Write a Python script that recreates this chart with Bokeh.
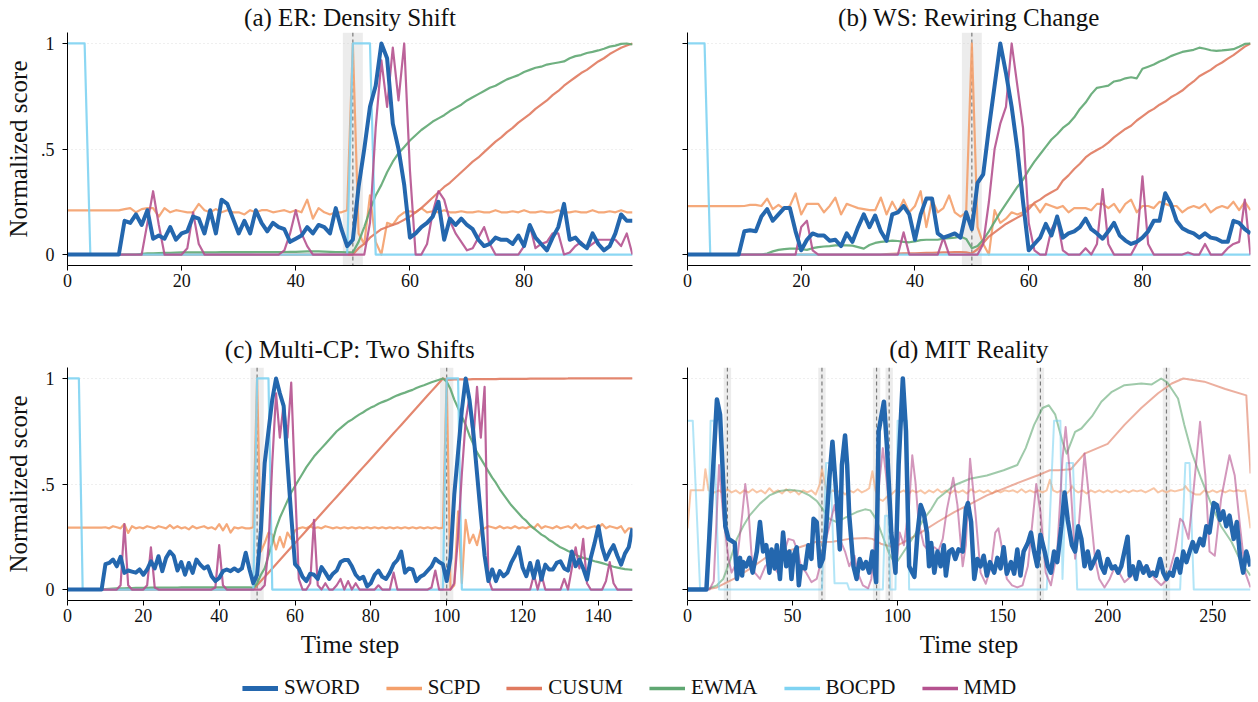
from bokeh.plotting import figure
from bokeh.models import Range1d, FixedTicker, BoxAnnotation, Span, Legend, LegendItem
from bokeh.layouts import column, row
from bokeh.embed import file_html
from bokeh.resources import INLINE

FONT = "Liberation Serif"
METHODS = ["SWORD", "SCPD", "CUSUM", "EWMA", "BOCPD", "MMD"]
COLORS = {"SWORD": "#2467ae", "SCPD": "#f4a06b", "CUSUM": "#e07a5f",
          "EWMA": "#5fa772", "BOCPD": "#7fd3f2", "MMD": "#b5528f"}

# ---------------- (a) ER: Density Shift ----------------
STEPS_A = list(range(100))
A_SWORD = [0, 0, 0, 0, 0, 0, 0, 0, 0, 0,
           .16, .15, .19, .14, .21, .075, .09, .075, .13, .07,
           .10, .11, .18, .17, .10, .21, .10, .26, .24, .17,
           .10, .16, .10, .21, .15, .11, .15, .13, .12, .06,
           .075, .09, .13, .10, .14, .13, .10, .22, .12, .04,
           .07, .32, .50, .70, .80, 1.0, .93, .62, .50, .33,
           .08, .10, .13, .15, .18, .25, .07, .17, .14, .17,
           .14, .12, .07, .04, .05, .08, .07, .07, .05, .09,
           .04, .14, .08, .05, .02, .08, .13, .24, .07, .08,
           .05, .03, .10, .05, .02, .04, .10, .19, .16, .16]
A_SCPD = [.209, .209, .209, .209, .209, .209, .209, .209, .209, .209,
          .215, .22, .20, .215, .22, .22, .18, .22, .20, .21,
          .205, .20, .20, .24, .21, .20, .215, .20, .21, .20,
          .20, .19, .21, .20, .21, .21, .20, .205, .21, .20,
          .21, .20, .26, .17, .22, .20, .19, .20, .20, .21,
          1.0, .10, .05, .28, .06, .0, .15, .14, .18, .20,
          .205, .20, .22, .20, .205, .20, .21, .20, .20, .205,
          .20, .20, .205, .20, .20, .21, .20, .20, .205, .20,
          .21, .20, .20, .205, .20, .20, .21, .20, .20, .205,
          .20, .20, .21, .20, .20, .205, .20, .21, .20, .20]
A_CUSUM = [0, 0, 0, 0, 0, 0, 0, 0, 0, 0,
           0, 0, 0, 0, 0, 0, 0, 0, 0, 0,
           0, 0, 0, 0, 0, 0, 0, 0, 0, 0,
           0, 0, 0, 0, 0, 0, 0, 0, 0, 0,
           0, 0, 0, 0, 0, 0, 0, 0, 0, 0,
           0, .03, .05, .08, .10, .12, .13, .14, .15, .165,
           .18, .20, .22, .245, .27, .295, .32, .34, .365, .39,
           .415, .44, .46, .485, .51, .535, .555, .58, .60, .625,
           .645, .665, .69, .71, .73, .755, .775, .80, .82, .84,
           .86, .875, .895, .915, .93, .95, .965, .98, .99, 1.0]
A_EWMA = [0, 0, 0, 0, 0, 0, 0, 0, 0, 0,
          0, 0, 0, .003, .005, .006, .007, .008, .008, .009,
          .01, .01, .01, .01, .01, .01, .01, .011, .011, .011,
          .011, .011, .011, .012, .012, .012, .012, .012, .012, .013,
          .013, .014, .015, .015, .015, .014, .013, .012, .012, .01,
          .01, .06, .13, .21, .28, .33, .39, .44, .48, .51,
          .54, .565, .59, .61, .63, .645, .66, .68, .695, .71,
          .73, .745, .76, .775, .79, .80, .815, .83, .84, .85,
          .865, .875, .885, .89, .90, .905, .91, .915, .93, .94,
          .945, .955, .96, .967, .975, .985, .99, .998, 1.0, .995]
A_BOCPD_X = [0, 3, 4, 49, 50, 53, 54, 99]
A_BOCPD_Y = [1, 1, 0, 0, 1, 1, 0, 0]
A_MMD = [0, 0, 0, 0, 0, 0, 0, 0, 0, 0,
         0, 0, 0, 0, .15, .30, .14, 0, 0, 0,
         0, .03, .20, .05, 0, 0, 0, 0, 0, 0,
         0, 0, 0, 0, 0, 0, 0, 0, .02, .10,
         .21, .10, .04, 0, 0, 0, 0, 0, 0, 0,
         0, 0, 0, .15, .60, .92, .70, .98, .73, 1.0,
         .40, 0, 0, .05, .20, .30, .26, .16, .10, .06,
         .02, .03, .08, .13, .05, 0, 0, 0, 0, 0,
         .04, .14, .03, .05, .06, .10, .10, 0, .01, .04,
         .06, .03, .05, .07, .07, .07, .07, .04, .10, 0]
CP_A = [50]

# ---------------- (b) WS: Rewiring Change ----------------
STEPS_B = list(range(100))
B_SWORD = [0, 0, 0, 0, 0, 0, 0, 0, 0, 0,
           .11, .115, .11, .18, .215, .16, .19, .22, .22, .11,
           .02, .07, .10, .09, .09, .065, .07, .04, .10, .06,
           .13, .19, .13, .185, .11, .065, .19, .20, .23, .19,
           .07, .19, .265, .265, .10, .08, .09, .10, .08, .20,
           .12, .34, .38, .60, .80, 1.0, .86, .70, .50, .25,
           .02, .05, .08, .145, .09, .18, .08, .10, .11, .13,
           .17, .12, .10, .075, .11, .15, .09, .066, .05, .06,
           .08, .11, .16, .16, .29, .24, .16, .125, .11, .10,
           .08, .10, .08, .075, .06, .06, .16, .15, .12, .10]
B_SCPD = [.229, .229, .229, .229, .229, .229, .229, .229, .229, .229,
          .23, .235, .235, .23, .265, .215, .235, .215, .23, .29,
          .19, .24, .24, .24, .20, .23, .27, .19, .24, .23,
          .22, .215, .21, .21, .27, .19, .25, .20, .26, .20,
          .23, .30, .13, .26, .20, .22, .28, .20, .18, .20,
          1.0, .13, .05, .0, .21, .15, .17, .20, .19, .20,
          .23, .24, .20, .24, .23, .22, .23, .20, .22, .22,
          .22, .21, .24, .24, .22, .24, .20, .24, .26, .20,
          .23, .23, .22, .25, .24, .23, .23, .20, .22, .23,
          .22, .24, .20, .22, .23, .22, .25, .21, .25, .21]
B_CUSUM = [0, 0, 0, 0, 0, 0, 0, 0, 0, 0,
           0, 0, 0, 0, 0, 0, 0, 0, 0, 0,
           0, 0, 0, 0, 0, 0, 0, 0, 0, 0,
           0, 0, 0, 0, 0, .002, .003, .004, .005, .006,
           .006, .007, .008, .008, .009, .01, .01, .011, .012, .01,
           .005, .025, .055, .085, .105, .125, .145, .16, .175, .19,
           .215, .245, .26, .28, .295, .31, .35, .375, .405, .43,
           .46, .48, .495, .51, .53, .555, .575, .595, .61, .635,
           .655, .675, .69, .71, .725, .745, .76, .777, .80, .82,
           .845, .86, .875, .895, .91, .928, .945, .965, .985, 1.0]
B_EWMA = [0, 0, 0, 0, 0, 0, 0, 0, 0, 0,
          0, 0, 0, 0, .005, .015, .022, .026, .028, .028,
          .025, .022, .03, .035, .038, .04, .043, .044, .043, .042,
          .035, .028, .045, .055, .06, .062, .066, .064, .06, .058,
          .062, .068, .07, .07, .07, .075, .078, .08, .085, .074,
          .03, .04, .07, .11, .155, .20, .24, .28, .32, .355,
          .40, .44, .475, .51, .545, .57, .60, .62, .65, .69,
          .72, .76, .79, .795, .80, .82, .825, .835, .84, .835,
          .88, .89, .90, .915, .925, .94, .95, .96, .965, .97,
          .98, .975, .968, .965, .967, .97, .973, .985, .998, 1.0]
B_BOCPD_X = [0, 3, 4, 99]
B_BOCPD_Y = [1, 1, 0, 0]
B_MMD = [0, 0, 0, 0, 0, 0, 0, 0, 0, 0,
         0, 0, 0, 0, 0, 0, 0, 0, 0, 0,
         .13, .16, .02, 0, 0, 0, 0, 0, 0, 0,
         0, 0, 0, 0, 0, 0, 0, 0, .105, 0,
         0, 0, 0, 0, 0, .08, 0, 0, 0, 0,
         0, 0, .05, .25, .50, .62, .70, 1.0, .80, .60,
         .15, .02, 0, 0, .12, .17, .02, 0, 0, 0,
         .03, 0, .05, .31, .05, 0, 0, 0, 0, .05,
         .37, .05, 0, 0, 0, 0, 0, 0, .01, 0,
         0, .05, 0, 0, 0, .03, .05, .06, .26, 0]
CP_B = [50]

# ---------------- (c) Multi-CP: Two Shifts ----------------
STEPS_C = list(range(150))
C_SWORD = [0, 0, 0, 0, 0, 0, 0, 0, 0, 0,
           .12, .126, .142, .11, .155, .079, .09, .085, .08, .095,
           .07, .095, .134, .10, .158, .087, .15, .18, .16, .09,
           .13, .07, .126, .079, .142, .118, .10, .11, .063, .04,
           .055, .087, .095, .087, .10, .087, .10, .174, .095, .03,
           .07, .28, .60, .75, .90, 1.0, .93, .87, .60, .35,
           .12, .10, .06, .04, .075, .07, .05, .106, .08, .05,
           .075, .09, .13, .14, .14, .11, .07, .05, .06, .015,
           .03, .07, .09, .06, .05, .08, .12, .14, .18, .08,
           .10, .095, .04, .06, .07, .09, .11, .146, .13, .12,
           .04, .15, .45, .65, .85, 1.0, .90, .75, .55, .35,
           .16, .04, .095, .04, .087, .063, .079, .126, .16, .20,
           .105, .063, .126, .055, .134, .047, .118, .095, .095, .126,
           .134, .10, .09, .18, .11, .142, .10, .047, .15, .22,
           .30, .20, .142, .18, .21, .16, .118, .17, .20, .29]
C_SCPD = [.293, .293, .293, .293, .293, .293, .293, .293, .293, .293,
          .295, .29, .30, .295, .29, .31, .268, .30, .29, .295,
          .29, .30, .295, .29, .30, .295, .29, .305, .29, .30,
          .29, .295, .285, .30, .29, .295, .30, .29, .295, .285,
          .31, .28, .31, .27, .295, .29, .295, .29, .29, .295,
          1.0, .18, .22, .27, .26, .19, .25, .20, .27, .24,
          .28, .29, .295, .29, .30, .29, .295, .29, .30, .295,
          .29, .295, .29, .295, .29, .295, .29, .295, .29, .295,
          .29, .295, .29, .295, .29, .295, .29, .295, .29, .295,
          .29, .295, .29, .295, .29, .295, .29, .295, .29, .293,
          1.0, .0, .02, .37, .03, .33, .22, .26, .21, .285,
          .29, .30, .295, .29, .30, .29, .295, .29, .30, .29,
          .295, .29, .30, .29, .31, .29, .30, .295, .29, .30,
          .29, .295, .30, .29, .31, .29, .30, .29, .295, .30,
          .29, .31, .29, .30, .295, .29, .30, .27, .29, .29]
C_CUSUM = [0, 0, 0, 0, 0, 0, 0, 0, 0, 0,
           0, 0, 0, 0, 0, 0, 0, 0, 0, 0,
           0, 0, 0, 0, 0, 0, 0, 0, 0, 0,
           0, 0, 0, 0, 0, 0, 0, 0, 0, 0,
           0, 0, 0, 0, 0, 0, 0, 0, 0, 0,
           .02, .04, .06, .08, .10, .12, .14, .16, .18, .20,
           .22, .24, .26, .28, .30, .32, .34, .36, .38, .40,
           .42, .44, .46, .48, .50, .52, .54, .56, .58, .60,
           .62, .64, .66, .68, .70, .72, .74, .76, .78, .80,
           .82, .84, .86, .88, .90, .92, .94, .96, .98, 1.0,
           .995, .995, .996, .996, .996, .996, .996, .997, .997, .997,
           .997, .997, .997, .997, .998, .998, .998, .998, .998, .998,
           .998, .998, .999, .999, .999, .999, .999, .999, .999, .999,
           .999, .999, 1.0, 1.0, 1.0, 1.0, 1.0, 1.0, 1.0, 1.0,
           1.0, 1.0, 1.0, 1.0, 1.0, 1.0, 1.0, 1.0, 1.0, 1.0]
C_EWMA = [0, 0, 0, 0, 0, 0, 0, 0, 0, 0,
          .002, .003, .004, .005, .006, .006, .007, .007, .008, .008,
          .008, .008, .009, .009, .009, .009, .009, .009, .009, .009,
          .01, .01, .01, .01, .01, .01, .01, .01, .01, .01,
          .01, .01, .01, .01, .01, .01, .01, .01, .01, .008,
          .03, .07, .10, .16, .22, .29, .34, .38, .42, .46,
          .49, .52, .55, .58, .605, .63, .65, .67, .69, .71,
          .73, .75, .765, .78, .795, .805, .818, .83, .84, .852,
          .862, .87, .88, .888, .895, .903, .912, .92, .927, .933,
          .94, .946, .955, .962, .968, .975, .982, .988, .994, 1.0,
          .985, .95, .90, .86, .82, .78, .73, .69, .65, .62,
          .59, .56, .53, .505, .475, .45, .425, .40, .38, .36,
          .34, .325, .305, .29, .275, .26, .25, .235, .225, .212,
          .20, .192, .183, .175, .165, .157, .15, .145, .14, .134,
          .13, .125, .12, .114, .108, .104, .10, .097, .095, .093]
C_BOCPD_X = [0, 3, 4, 49, 50, 53, 54, 99, 100, 103, 104, 149]
C_BOCPD_Y = [1, 1, 0, 0, 1, 1, 0, 0, 1, 1, 0, 0]
C_MMD = [0, 0, 0, 0, 0, 0, 0, 0, 0, 0,
         0, 0, 0, 0, .02, .31, .02, 0, 0, 0,
         0, .02, .20, .01, 0, 0, 0, 0, 0, 0,
         0, 0, 0, 0, 0, 0, 0, 0, 0, .01,
         .21, .02, 0, 0, 0, 0, 0, 0, 0, 0,
         0, 0, .02, .20, .60, .93, .72, .88, .72, .98,
         .50, .05, 0, 0, .03, .33, .02, 0, .03, 0,
         0, .02, .05, 0, .04, 0, .03, 0, 0, 0,
         0, 0, .02, 0, 0, 0, .08, 0, 0, 0,
         0, 0, 0, 0, 0, 0, .01, .09, 0, 0,
         0, 0, .03, .25, .55, .80, .91, .70, .96, .72,
         .96, .05, 0, 0, 0, 0, 0, 0, 0, 0,
         0, 0, 0, .07, 0, .07, 0, 0, 0, 0,
         0, .05, 0, .10, .20, .10, .24, .03, 0, 0,
         0, 0, .04, .13, .03, 0, 0, 0, 0, 0]
CP_C = [50, 100]

# ---------------- (d) MIT Reality  (time step, score) ----------------
D_SWORD = [(0, 0), (9, 0), (14, .9), (15.5, .83), (17, .51), (18, .3), (19.5, .24), (21, .23),
           (22.5, .22), (23.5, .05), (25, .15), (26, .066), (26.5, .13), (28, .11), (29.5, .15),
           (31, .08), (33, .18), (34.5, .32), (36, .18), (37.5, .21), (39, .08), (40, .19),
           (41.5, .1), (42.5, .21), (44, .05), (45.5, .27), (47, .11), (48.5, .18), (49.5, .05),
           (50.5, .16), (52, .2), (53, .02), (54, .11), (56, .1), (57.5, .21), (59, .145),
           (60, .335), (61.5, .32), (63, .11), (64.5, .145), (66, .29), (67.5, .525), (69, .7),
           (71, .43), (72.5, .19), (73.5, .59), (75, .73), (76, .59), (77, .35), (79, .11),
           (80.5, .05), (82, .145), (83.5, .1), (85, .13), (86.5, .08), (88, .18), (89.8, .035),
           (91, .75), (93.5, .89), (95, .67), (97, .27), (99, .08), (100.5, .59), (102.5, 1.0),
           (104, .75), (105.5, .11), (107, .08), (108, .06), (109.5, .27), (111, .4), (112.5, .36),
           (114, .27), (115, .11), (116, .22), (117.5, .08), (119, .18), (120.5, .11), (122, .21),
           (123, .066), (124.5, .18), (126, .19), (127.5, .145), (129, .19), (131, .18),
           (132.5, .38), (133.5, .41), (135, .32), (136.5, .05), (138, .145), (139.5, .11),
           (141, .16), (142.5, .066), (144, .13), (146, .08), (147.5, .15), (149, .1),
           (150.5, .2), (152, .075), (154, .13), (155.5, .075), (157, .19), (158.5, .066),
           (160, .18), (162, .22), (163.5, .27), (165, .18), (166.5, .11), (168, .26), (170, .18),
           (171.5, .11), (173, .08), (174.5, .18), (176, .13), (178, .3), (179.5, .46), (181, .33),
           (183, .21), (184.5, .18), (186, .3), (187.5, .24), (189, .11), (190.5, .18), (192, .1),
           (194, .145), (195.5, .18), (197, .11), (198.5, .08), (200, .145), (202, .1),
           (203.5, .11), (205, .08), (206.5, .11), (208, .18), (209.5, .25), (210.5, .066),
           (212, .11), (213.5, .05), (215, .13), (217, .08), (218.5, .11), (220, .066),
           (221.5, .08), (223, .066), (225, .145), (226.5, .08), (228, .05), (229.5, .08),
           (231, .066), (233, .145), (234.5, .08), (236, .18), (237.5, .13), (239, .18),
           (240.5, .225), (242, .18), (244, .24), (245.5, .21), (247, .3), (248.5, .27),
           (250.5, .41), (252, .4), (253.5, .33), (255, .37), (256.5, .3), (258, .35), (260, .24),
           (261.5, .32), (263, .16), (264.5, .08), (266, .18), (268, .11)]
D_SCPD = [(0, .29), (1.5, .47), (7.5, .47), (8.5, .57), (10, .47), (13, .46), (15, .47),
          (17, .455), (19, .475), (21, .46), (23, .47), (25, .455), (27, .47), (29, .46),
          (31, .475), (33, .46), (35, .47), (37, .455), (39, .48), (41, .46), (43, .47),
          (45, .455), (47, .475), (49, .46), (51, .47), (53, .45), (55, .47), (57, .46),
          (59, .47), (61, .45), (63, .5), (64, .57), (65.5, .5), (67, .45), (69, .47),
          (71, .46), (73, .47), (75, .45), (77, .47), (79, .46), (81, .475), (83, .46),
          (85, .47), (86.5, .48), (88, .56), (89.5, .47), (91, .43), (93, .42), (95, .44),
          (97, .45), (99, .47), (101, .46), (103, .47), (105, .45), (107, .47), (109, .46),
          (111, .47), (113, .455), (115, .47), (117, .46), (119, .475), (121, .46), (123, .47),
          (125, .455), (127, .47), (129, .46), (131, .47), (133, .455), (135, .475), (137, .46),
          (139, .47), (141, .46), (143, .47), (145, .455), (147, .47), (149, .46), (151, .47),
          (153, .465), (155, .47), (157, .46), (159, .475), (161, .46), (163, .47), (165, .46),
          (167, .47), (169, .46), (171, .47), (172.5, .52), (174, .47), (176, .46), (178, .47),
          (180, .45), (182, .47), (183, .49), (184.5, .47), (186, .46), (188, .47), (190, .455),
          (192, .47), (194, .46), (196, .47), (198, .46), (200, .47), (202, .46), (204, .47),
          (206, .46), (208, .47), (210, .46), (212, .47), (214, .465), (216, .47), (218, .46),
          (220, .47), (222, .48), (224, .46), (226, .47), (228, .46), (230, .47), (232, .465),
          (234, .47), (236, .475), (237, .49), (238.5, .47), (240, .46), (242, .45), (244, .45),
          (246, .47), (248, .46), (250, .47), (252, .46), (254, .47), (256, .46), (258, .47),
          (260, .465), (262, .47), (264, .465), (265.5, .47), (268, .29)]
D_CUSUM = [(0, 0), (10, .002), (14, .01), (22, .05), (30, .1), (37.5, .153), (45.5, .177),
           (50, .19), (61, .225), (69, .226), (77, .24), (85, .244), (88, .24), (92, .217),
           (98, .2), (103, .225), (111, .27), (119, .32), (127, .367), (135, .407),
           (142.5, .446), (150.5, .478), (158.5, .51), (166.5, .54), (172.5, .565),
           (176.5, .565), (182.5, .57), (189, .644), (200, .69), (208, .78), (216, .86),
           (224, .93), (230.5, .976), (236, 1.0), (246, .985), (256, .95), (266, .92), (268, .55)]
D_EWMA = [(0, 0), (9, 0), (14, .02), (17, .05), (20, .13), (23.5, .24), (26.5, .3), (29.5, .35),
          (34.5, .407), (39, .446), (44, .467), (48.5, .473), (53.5, .467), (58, .446),
          (61.5, .42), (64.5, .38), (67.5, .335), (71, .32), (74, .335), (77, .35), (80.5, .367),
          (84.5, .38), (87, .375), (90, .33), (93, .25), (96, .17), (99, .12), (103, .18),
          (108, .256), (112.5, .335), (116, .38), (119, .43), (127, .494), (134.5, .525),
          (142.5, .54), (150.5, .565), (157, .59), (161, .67), (165, .78), (169, .86),
          (172, .873), (175, .83), (178.5, .7), (180.5, .644), (184.5, .747), (187.5, .763),
          (192.5, .82), (197, .89), (202, .937), (208, .968), (216, .976), (221, .972),
          (225.5, 1.0), (228.5, .98), (233.5, .905), (236.5, .78), (240, .65), (244.5, .525),
          (249.5, .4), (254, .3), (259, .225), (263.5, .13), (268, .066)]
D_BOCPD = [(0, .8), (2.5, .8), (6, 0), (9.5, 0), (11, .8), (12.5, .8), (15, 0), (64, 0),
           (66, .6), (68, .6), (70, .03), (76, .03), (77, 0), (93, 0), (94, .35), (95.5, .35),
           (96.5, 0), (99, 0), (100, .8), (104.5, .8), (105.5, 0), (171, 0), (174.5, .8),
           (177.5, .8), (178.5, .05), (180.5, .6), (183.5, .6), (185.5, 0), (234.5, 0),
           (237, .6), (239, .6), (241, 0), (268, 0)]
D_MMD = [(0, 0), (10.5, 0), (12.5, .04), (15, .59), (17, .35), (19.5, .146), (21, .08),
         (23.5, .13), (26, .35), (27.5, .5), (29, .38), (30.5, .16), (32, .08), (34.5, .05),
         (37, .11), (39, .13), (41.5, .1), (44, .066), (45.5, .16), (48, .24), (50.5, .233),
         (52.5, .18), (54, .11), (56.5, .08), (59, .035), (61.5, .05), (63, .11), (64.5, .18),
         (67.5, .3), (70, .4), (72.5, .24), (75, .18), (77, .11), (79.5, .16), (81, .08),
         (83.5, .02), (86, .006), (87.5, .05), (89, .2), (90.5, .43), (93, .67), (95, .5),
         (97, .27), (99, .08), (101, .27), (103, .21), (105.5, .4), (107, .636), (108.5, .51),
         (110, .32), (112.5, .21), (115, .18), (117.5, .2), (119.5, .185), (121.5, .24),
         (123.5, .38), (126.5, .53), (128.5, .4), (131, .11), (132.5, .21), (134.5, .62),
         (137, .37), (139.5, .08), (142, .027), (144.5, .11), (146.5, .27), (148, .29),
         (150, .18), (152, .05), (154.5, .02), (157, .01), (159.5, .02), (162, .11), (164, .3),
         (166, .5), (168, .37), (170.5, .08), (173, .02), (176, .18), (178.5, .62), (180, .77),
         (182, .557), (184.5, .146), (186, .27), (189, .644), (191.5, .4), (194, .146),
         (196, .05), (198.5, .01), (201, .05), (203.5, .11), (205.5, .08), (208, .035),
         (213, .08), (216, .106), (219, .11), (222.5, .05), (225.5, .02), (228.5, .05),
         (232, .18), (234.5, .335), (236, .32), (238.5, .24), (240.5, .43), (244, .795),
         (246.5, .54), (248.5, .18), (251, .16), (254, .43), (258, .636), (260.5, .54),
         (263, .3), (265.5, .08), (268, .01)]
CP_D = [19, 64, 90, 96, 168, 228]

for arr in (A_SWORD, A_SCPD, A_CUSUM, A_EWMA, A_MMD, B_SWORD, B_SCPD, B_CUSUM, B_EWMA, B_MMD):
    assert len(arr) == 100, len(arr)
for arr in (C_SWORD, C_SCPD, C_CUSUM, C_EWMA, C_MMD):
    assert len(arr) == 150, len(arr)


def unzip(pts):
    return [p[0] for p in pts], [p[1] for p in pts]


def make_panel(title, series, xmax, xticks, cps, first_col, bottom, other_alpha, sword_w, other_w):
    width = 640 if first_col else 618
    bl = 67 if first_col else 47
    br = 8
    if bottom:
        height, bt, bb = 355, 62, 60
    else:
        height, bt, bb = 305, 0, 40
    p = figure(width=width, height=height, x_range=Range1d(0, xmax),
               y_range=Range1d(-0.052, 1.052), output_backend="svg",
               toolbar_location=None, min_border_left=bl, min_border_right=br,
               min_border_top=bt, min_border_bottom=bb, title=title)
    p.title.text_font = FONT
    p.title.text_font_size = "25px"
    p.title.text_font_style = "normal"
    p.title.text_color = "#111111"
    p.title.align = "center"
    p.title.standoff = 9 if bottom else 3
    p.outline_line_color = None
    p.xgrid.visible = False
    p.ygrid.ticker = FixedTicker(ticks=[0.5, 1.0])
    p.ygrid.grid_line_color = "#bbbbbb"
    p.ygrid.grid_line_alpha = 0.6
    p.ygrid.grid_line_dash = "1 3"
    p.ygrid.grid_line_width = 0.8

    for cp in cps:
        p.add_layout(BoxAnnotation(left=cp - 1.75, right=cp + 1.75, fill_color="#d0d0d0",
                                   fill_alpha=0.4, line_alpha=0, level="underlay"))
        p.add_layout(Span(location=cp, dimension="height", line_color="#7a7a7a",
                          line_dash="4 3", line_width=1.2, level="underlay"))

    for name in ["SCPD", "CUSUM", "EWMA", "BOCPD", "MMD", "SWORD"]:
        xs, ys = series[name]
        if name == "SWORD":
            p.line(xs, ys, line_color=COLORS[name], line_width=sword_w, line_join="round")
        else:
            p.line(xs, ys, line_color=COLORS[name], line_width=other_w,
                   line_alpha=other_alpha, line_join="round")

    for ax in (p.xaxis[0], p.yaxis[0]):
        ax.axis_line_color = "black"
        ax.axis_line_width = 1
        ax.major_tick_line_color = "black"
        ax.major_tick_in = 0
        ax.major_tick_out = 5
        ax.minor_tick_line_color = None
        ax.major_label_text_font = FONT
        ax.major_label_text_font_size = "18px"
        ax.major_label_text_color = "#111111"
        ax.axis_label_text_font = FONT
        ax.axis_label_text_font_size = "25px"
        ax.axis_label_text_font_style = "normal"
        ax.axis_label_text_color = "#111111"
    p.xaxis.ticker = FixedTicker(ticks=xticks)
    p.xaxis.major_label_standoff = 3
    p.yaxis.ticker = FixedTicker(ticks=[0, 0.5, 1])
    p.yaxis.major_label_standoff = 8
    if first_col:
        p.yaxis.major_label_overrides = {0: "0", 0.5: ".5", 1: "1"}
        p.yaxis.axis_label = "Normalized score"
        p.yaxis.axis_label_standoff = 6
    else:
        p.yaxis.major_label_overrides = {0: "", 0.5: "", 1: ""}
    if bottom:
        p.xaxis.axis_label = "Time step"
        p.xaxis.axis_label_standoff = 6
    return p


sa = {"SWORD": (STEPS_A, A_SWORD), "SCPD": (STEPS_A, A_SCPD), "CUSUM": (STEPS_A, A_CUSUM),
      "EWMA": (STEPS_A, A_EWMA), "BOCPD": (A_BOCPD_X, A_BOCPD_Y), "MMD": (STEPS_A, A_MMD)}
sb = {"SWORD": (STEPS_B, B_SWORD), "SCPD": (STEPS_B, B_SCPD), "CUSUM": (STEPS_B, B_CUSUM),
      "EWMA": (STEPS_B, B_EWMA), "BOCPD": (B_BOCPD_X, B_BOCPD_Y), "MMD": (STEPS_B, B_MMD)}
sc = {"SWORD": (STEPS_C, C_SWORD), "SCPD": (STEPS_C, C_SCPD), "CUSUM": (STEPS_C, C_CUSUM),
      "EWMA": (STEPS_C, C_EWMA), "BOCPD": (C_BOCPD_X, C_BOCPD_Y), "MMD": (STEPS_C, C_MMD)}
sd = {"SWORD": unzip(D_SWORD), "SCPD": unzip(D_SCPD), "CUSUM": unzip(D_CUSUM),
      "EWMA": unzip(D_EWMA), "BOCPD": unzip(D_BOCPD), "MMD": unzip(D_MMD)}

pa = make_panel("(a) ER: Density Shift", sa, 99, [0, 20, 40, 60, 80], CP_A, True, False, 0.9, 4, 2.2)
pb = make_panel("(b) WS: Rewiring Change", sb, 99, [0, 20, 40, 60, 80], CP_B, False, False, 0.9, 4, 2.2)
pc = make_panel("(c) Multi-CP: Two Shifts", sc, 149, [0, 20, 40, 60, 80, 100, 120, 140], CP_C,
                True, True, 0.9, 4, 2.2)
pd_ = make_panel("(d) MIT Reality", sd, 268, [0, 50, 100, 150, 200, 250], CP_D,
                 False, True, 0.6, 4.5, 2.0)

# legend strip (the sample lines sit outside the visible range; only the legend shows)
LEG_X = [5, 6]
LEG_Y = [5, 5]
lf = figure(width=1258, height=40, x_range=Range1d(0, 1), y_range=Range1d(0, 1),
            toolbar_location=None, output_backend="svg", min_border=0,
            x_axis_type=None, y_axis_type=None)
lf.outline_line_color = None
items = []
for name in METHODS:
    r = lf.line(x=LEG_X, y=LEG_Y, line_color=COLORS[name],
                line_width=5 if name == "SWORD" else 3.5)
    items.append(LegendItem(label=name, renderers=[r]))
leg = Legend(items=items, orientation="horizontal", location="bottom_center",
             label_text_font=FONT, label_text_font_size="21px", label_text_color="#111111",
             glyph_width=36, glyph_height=20, label_standoff=6, spacing=26,
             padding=0, margin=0, border_line_color=None, background_fill_alpha=0)
lf.add_layout(leg, "center")

layout = column(row(pa, pb), row(pc, pd_), lf)
open("out.html", "w").write(file_html(layout, INLINE))
